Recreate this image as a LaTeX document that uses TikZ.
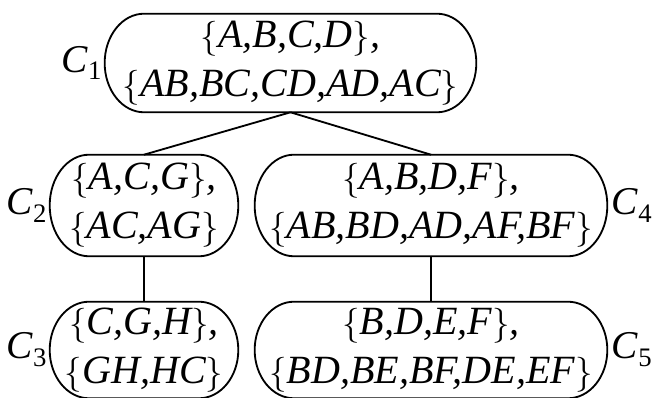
\documentclass[tikz,border=0pt]{standalone}
\usepackage{fontspec}
\setmainfont{Liberation Serif}
\usetikzlibrary{positioning,calc}
\newcommand{\st}[1]{$\{$#1$\}$}
\newcommand{\cname}[1]{\textit{C}\raisebox{-0.2em}{\fontsize{19}{19}\selectfont\textup{#1}}}
\def\rx{28pt}
% box with elliptic ends round a named node
\newcommand{\pill}[1]{%
  \draw[edge] let \p1=(#1.north east), \p2=(#1.south west), \n1={(\y1-\y2)/2} in
    (\x2+\rx,\y1) -- (\x1-\rx,\y1) arc[start angle=90,end angle=-90,x radius=\rx,y radius={\n1*1pt}]
    -- (\x2+\rx,\y2) arc[start angle=270,end angle=90,x radius=\rx,y radius={\n1*1pt}] -- cycle;}

\begin{document}
\begin{tikzpicture}[x=0.025cm,y=0.025cm,
  edge/.style={line width=1.3pt},
  cset/.style={align=center,inner sep=0pt,font=\fontsize{28.5}{35}\selectfont\itshape},
  lab/.style={inner sep=0pt,font=\fontsize{28}{28}\selectfont}]
\useasboundingbox (0,0) rectangle (660,-398);
% cliques
\node[cset,minimum width=9.275cm,minimum height=2.45cm] (c1) at (290.5,-63) {\st{A,B,C,D},\\\st{AB,BC,CD,AD,AC}};
\node[cset,minimum width=4.7cm,minimum height=2.525cm] (c2) at (144,-205.5) {\st{A,C,G},\\\st{AC,AG}};
\node[cset,minimum width=4.7cm,minimum height=2.4cm] (c3) at (144,-350) {\st{C,G,H},\\\st{GH,HC}};
\node[cset,minimum width=8.8cm,minimum height=2.525cm] (c4) at (431,-205.5) {\st{A,B,D,F},\\\st{AB,BD,AD,AF,BF}};
\node[cset,minimum width=8.8cm,minimum height=2.4cm] (c5) at (431,-350) {\st{B,D,E,F},\\\st{BD,BE,BF,DE,EF}};
\foreach \c in {c1,c2,c3,c4,c5} \pill{\c};
% names
\node[lab,left=2pt of c1] (l1) {\cname{1}};
\node[lab,left=2pt of c2] (l2) {\cname{2}};
\node[lab,left=2pt of c3] (l3) {\cname{3}};
\node[lab,right=3pt of c4] (l4) {\cname{4}};
\node[lab,right=3pt of c5] (l5) {\cname{5}};
% tree
\draw[edge] (c1.south) -- (c2.north);
\draw[edge] (c1.south) -- (c4.north);
\draw[edge] (c2.south) -- (c3.north);
\draw[edge] (c4.south) -- (c5.north);
\end{tikzpicture}
\end{document}
